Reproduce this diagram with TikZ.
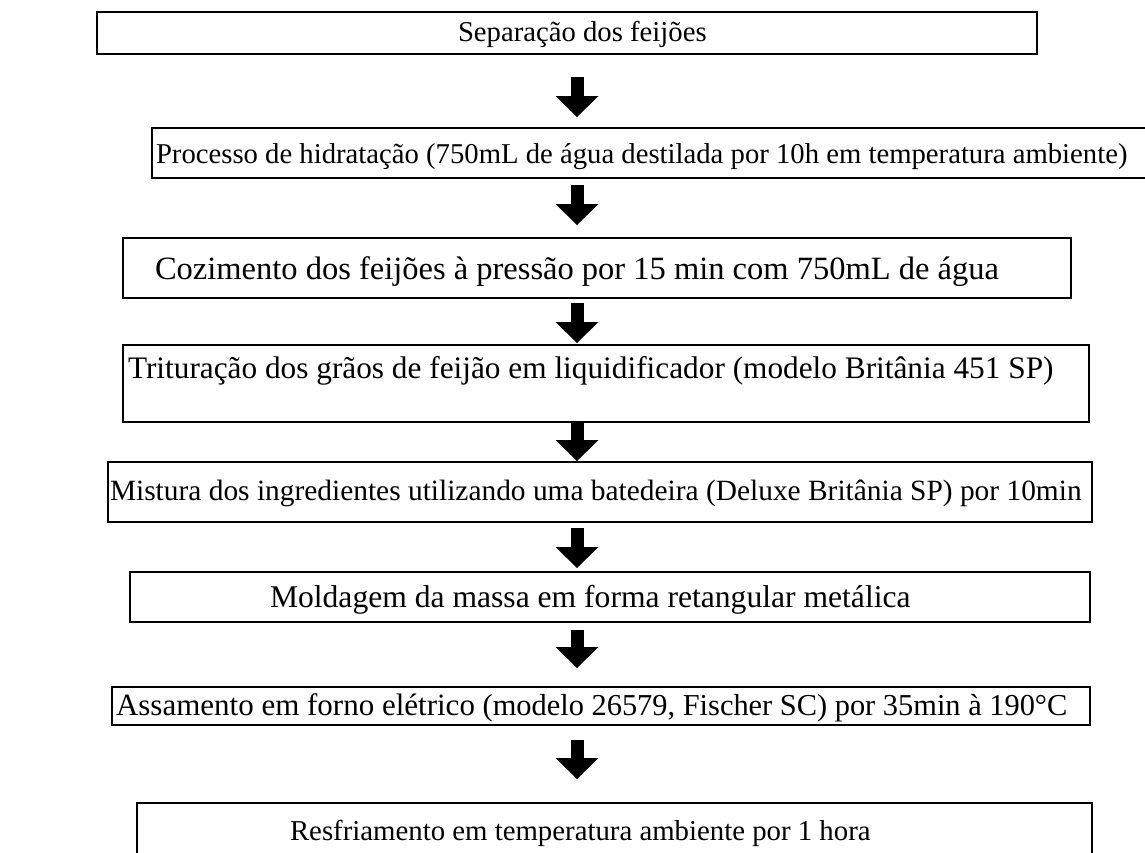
\documentclass[tikz,border=0pt]{standalone}
\usepackage{fontspec}
\setmainfont{Liberation Serif}
\usetikzlibrary{arrows.meta}
\begin{document}
\begin{tikzpicture}[x=1pt,y=-1pt,
 box/.style={draw=black,line width=2pt,anchor=north west,inner sep=0pt,outer sep=0pt},
 lbl/.style={anchor=base west,inner sep=0pt,outer sep=0pt,text=black},
 blockarrow/.style={line width=13pt,-{Triangle[length=21pt,width=43pt,line width=0pt]}}]
\useasboundingbox (0,0) rectangle (1145,852);
\clip (0,0) rectangle (1145,852);
% boxes
\node[box,minimum width=940pt,minimum height=42pt] (b1) at (97,12) {};
\node[box,minimum width=1000pt,minimum height=50pt] (b2) at (152,128) {};
\node[box,minimum width=948pt,minimum height=60pt] (b3) at (123,238) {};
\node[box,minimum width=966pt,minimum height=77pt] (b4) at (123,345) {};
\node[box,minimum width=984pt,minimum height=60pt] (b5) at (108,462) {};
\node[box,minimum width=960pt,minimum height=50pt] (b6) at (130,572) {};
\node[box,minimum width=978pt,minimum height=38pt] (b7) at (112,687) {};
\node[box,minimum width=955pt,minimum height=60pt] (b8) at (137,803) {};
% texts
\node[lbl,font=\fontsize{28.7}{30}\selectfont] (t1) at (458,41) {Separação dos feijões};
\node[lbl,font=\fontsize{28.7}{30}\selectfont] (t2) at (156,163) {Processo de hidratação (750mL de água destilada por 10h em temperatura ambiente)};
\node[lbl,font=\fontsize{32.5}{34}\selectfont] (t3) at (155,279) {Cozimento dos feijões à pressão por 15 min com 750mL de água};
\node[lbl,font=\fontsize{31.3}{33}\selectfont] (t4) at (128,378) {Trituração dos grãos de feijão em liquidificador (modelo Britânia 451 SP)};
\node[lbl,font=\fontsize{29.4}{31}\selectfont] (t5) at (110,500) {Mistura dos ingredientes utilizando uma batedeira (Deluxe Britânia SP) por 10min};
\node[lbl,font=\fontsize{31.6}{33}\selectfont] (t6) at (270,607) {Moldagem da massa em forma retangular metálica};
\node[lbl,font=\fontsize{31}{33}\selectfont] (t7) at (116,715) {Assamento em forno elétrico {\fontsize{30.4}{32}\selectfont (modelo 26579, Fischer SC) por 35min à 190°C}};
\node[lbl,font=\fontsize{28.8}{30}\selectfont] (t8) at (290,840) {Resfriamento em temperatura ambiente por 1 hora};
% arrows
\coordinate (a1s) at (577,77);  \coordinate (a1e) at (577,117);
\coordinate (a2s) at (577,185); \coordinate (a2e) at (577,225);
\coordinate (a3s) at (577,303); \coordinate (a3e) at (577,343);
\coordinate (a4s) at (577,422); \coordinate (a4e) at (577,461);
\coordinate (a5s) at (577,528); \coordinate (a5e) at (577,568);
\coordinate (a6s) at (577,630); \coordinate (a6e) at (577,668);
\coordinate (a7s) at (577,740); \coordinate (a7e) at (577,779);
\draw[blockarrow] (a1s) -- (a1e);
\draw[blockarrow] (a2s) -- (a2e);
\draw[blockarrow] (a3s) -- (a3e);
\draw[blockarrow] (a4s) -- (a4e);
\draw[blockarrow] (a5s) -- (a5e);
\draw[blockarrow] (a6s) -- (a6e);
\draw[blockarrow] (a7s) -- (a7e);
\end{tikzpicture}
\end{document}
